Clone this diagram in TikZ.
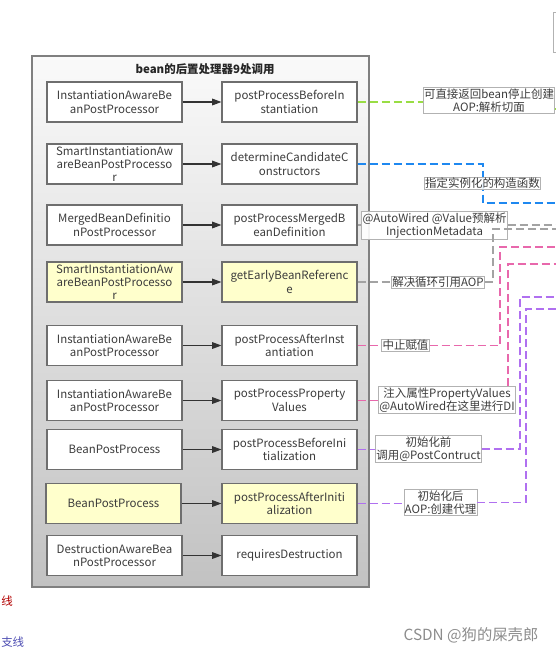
\documentclass[tikz,border=0pt]{standalone}
\usepackage{fontspec}
\setmainfont{Noto Sans CJK SC}
\usetikzlibrary{arrows.meta}

\definecolor{boxline}{HTML}{6E6E6E}
\definecolor{txtgray}{HTML}{3C3C3C}
\definecolor{hiyellow}{HTML}{FFFFCC}
\definecolor{lgreen}{HTML}{99DD44}
\definecolor{lblue}{HTML}{1E88F0}
\definecolor{lgray}{HTML}{A3A3A3}
\definecolor{lpink}{HTML}{E868AC}
\definecolor{lpurple}{HTML}{B070F0}

\newcommand{\procfont}{\fontsize{8.6}{10}\selectfont}

\begin{document}
\begin{tikzpicture}[x=0.75pt,y=-0.75pt,
    procbox/.style={draw=boxline, line width=0.8pt, fill=white,
        minimum width=101.25pt, minimum height=30pt, inner sep=0pt,
        align=center, text=txtgray, font=\procfont},
    hibox/.style={procbox, fill=hiyellow},
    callarrow/.style={draw=black!80, line width=0.8pt,
        -{Triangle[length=7pt,width=5pt]}},
    note/.style={draw=black!30, line width=0.5pt, fill=white,
        fill opacity=0.9, text opacity=1, inner sep=0.6pt,
        align=center, text=txtgray, font=\procfont},
    link/.style={line width=1.4pt, dash pattern=on 6pt off 3pt}
]
\useasboundingbox (0,0) rectangle (556,653);

% outer frame
\node (frame) [draw=black!50, line width=0.8pt,
    top color=black!2, bottom color=black!24,
    minimum width=252.75pt, minimum height=398.25pt,
    inner sep=0pt
] at (200.5,321.5) {};
\node (title) [
    font=\procfont\bfseries,
    text=black!85
] at (205,69) {bean的后置处理器9处调用};

% processor -> method rows
\node (p1) [procbox] at (114.5,102) {InstantiationAwareBe\\anPostProcessor};
\node (m1) [procbox] at (289.5,102) {postProcessBeforeIn\\stantiation};

\node (p2) [procbox] at (114.5,164) {SmartInstantiationAw\\areBeanPostProcesso\\r};
\node (m2) [procbox] at (289.5,164) {determineCandidateC\\onstructors};

\node (p3) [procbox] at (114.5,225) {MergedBeanDefinitio\\nPostProcessor};
\node (m3) [procbox] at (289.5,225) {postProcessMergedB\\eanDefinition};

\node (p4) [hibox] at (114.5,282) {SmartInstantiationAw\\areBeanPostProcesso\\r};
\node (m4) [hibox] at (289.5,282) {getEarlyBeanReferenc\\e};

\node (p5) [procbox] at (114.5,345.5) {InstantiationAwareBe\\anPostProcessor};
\node (m5) [procbox] at (289.5,345.5) {postProcessAfterInst\\antiation};

\node (p6) [procbox] at (114.5,400.5) {InstantiationAwareBe\\anPostProcessor};
\node (m6) [procbox] at (289.5,400.5) {postProcessProperty\\Values};

\node (p7) [procbox] at (114.5,449.5) {BeanPostProcess};
\node (m7) [procbox] at (289.5,449.5) {postProcessBeforeIni\\tialization};

\node (p8) [hibox] at (113.5,503.5) {BeanPostProcess};
\node (m8) [hibox] at (289.5,503.5) {postProcessAfterIniti\\alization};

\node (p9) [procbox] at (114.5,555.5) {DestructionAwareBea\\nPostProcessor};
\node (m9) [procbox] at (289.5,555.5) {requiresDestruction};

\foreach \i in {1,...,9}
    \draw [callarrow] (p\i) -- (m\i);

% bend points and exits on the right edge
\coordinate (c2) at (483,203);
\coordinate (e1) at (556,109);
\coordinate (e2) at (556,203);
\coordinate (e3) at (556,225);
\coordinate (c4) at (493,229);
\coordinate (e4) at (556,229);
\coordinate (c5) at (500,247);
\coordinate (e5) at (556,247);
\coordinate (c6) at (508,264);
\coordinate (e6) at (556,264);
\coordinate (c7) at (520,297);
\coordinate (e7) at (556,297);
\coordinate (c8) at (526,309);
\coordinate (e8) at (556,309);

% links drawn first, notes on top
\draw [link, lblue] (m2.east) -| (c2) -- (e2);
\draw [link, lgray] (m4.east) -- (400,282);
\draw [link, lpink] (m5.east) -- (390,345.5);
\draw [link, lpurple] (m7.east) -- (380,449.5);

\node (n1) [note] at (489,100.5) {可直接返回bean停止创建\\AOP:解析切面};
\node (n2) [note] at (482.5,183) {指定实例化的构造函数};
\node (n3) [note] at (434.5,225.5) {@AutoWired @Value预解析\\InjectionMetadata};
\node (n4) [note] at (438,282) {解决循环引用AOP};
\node (n5) [note] at (405.5,345.5) {中止赋值};
\node (n6) [note] at (447,400) {注入属性PropertyValues\\@AutoWired在这里进行DI};
\node (n7) [note] at (428.5,449) {初始化前\\调用@PostContruct};
\node (n8) [note] at (440.5,502.5) {初始化后\\AOP:创建代理};

\draw [link, lgreen] (m1.east) -- (m1.east -| n1.west);
\draw [link, lgreen] (n1.east |- e1) -- (e1);
\draw [link, lgray] (m3.east) -- (m3.east -| n3.west);
\draw [link, lgray] (n3.east |- e3) -- (e3);
\draw [link, lgray] (n4.east) -| (c4) -- (e4);
\draw [link, lpink] (n5.east) -| (c5) -- (e5);
\draw [link, lpink] (m6.east) -- (m6.east -| n6.west);
\draw [link, lpink] (c6 |- n6.north) -- (c6) -- (e6);
\draw [link, lpurple] (n7.east) -| (c7) -- (e7);
\draw [link, lpurple] (m8.east) -- (m8.east -| n8.west);
\draw [link, lpurple] (n8.east) -| (c8) -- (e8);

% pieces at the edges
\node (edgebox) [draw=black!30, fill=white, minimum width=12pt,
    minimum height=30pt, anchor=north west] at (553,12) {};
\node (redtail) [anchor=west, text=red!70!black, font=\procfont,
    inner sep=0pt] at (1,601) {线};
\node (bluetail) [anchor=west, text=blue!40!gray, font=\procfont,
    inner sep=0pt] at (1,642) {支线};

% watermark
\node (mark) [text=black!45, font=\fontsize{11.5}{12}\selectfont]
    at (471,635) {CSDN @狗的屎壳郎};

\end{tikzpicture}
\end{document}
